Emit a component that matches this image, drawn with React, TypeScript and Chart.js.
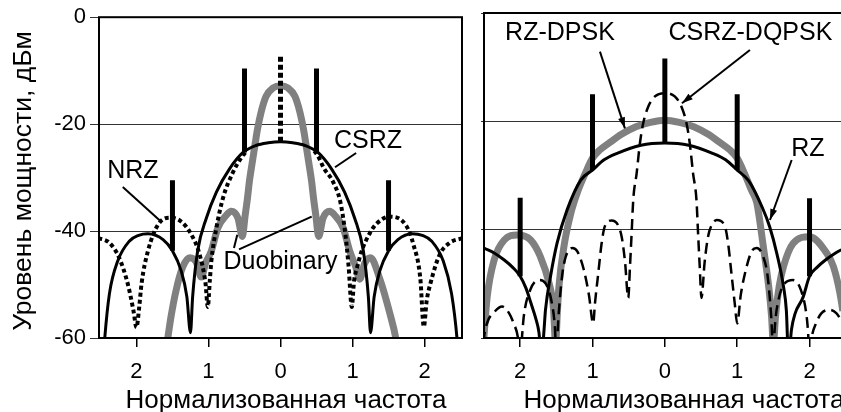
import React, { useEffect, useRef } from 'react';
import { Chart, registerables } from 'chart.js';

Chart.register(...registerables);

const FONT = '"Liberation Sans", Arial, Helvetica, sans-serif';
const GRAY = '#808080';

// ---------- shared axis ticks ----------
const xTickValues = [-2, -1, 0, 1, 2];
const yTickValues = [-60, -40, -20, 0];
const yAxisTitle = 'Уровень мощности, дБм';
const xAxisTitle = 'Нормализованная частота';

// ---------- left panel ----------
const csrzFreq = [-2.47, -2.44, -2.375, -2.26, -2.1, -1.97, -1.84, -1.63, -1.5, -1.38, -1.3, -1.25, -1.22, -1.15, -1.03, -0.89, -0.71, -0.52, -0.34, -0.17, 0, 0.17, 0.34, 0.52, 0.71, 0.89, 1.03, 1.15, 1.22, 1.25, 1.3, 1.38, 1.5, 1.63, 1.83, 1.97, 2.1, 2.26, 2.375, 2.45, 2.48];
const csrzLevel = [-66, -60, -51.7, -45.6, -41.9, -40.8, -40.5, -41.6, -43.7, -47.4, -52.3, -59, -52.3, -43.7, -37.6, -32.7, -28.4, -25.3, -24.0, -23.5, -23.3, -23.5, -24.0, -25.3, -28.4, -32.7, -37.6, -43.7, -52.3, -59, -52.3, -47.4, -43.7, -41.6, -40.5, -40.8, -41.9, -45.6, -51.7, -60, -66];

// main lobe centre is hidden under the CSRZ curve (null = gap)
const nrzFreq = [-2.53, -2.375, -2.24, -2.12, -2.04, -2.0, -1.96, -1.93, -1.84, -1.7, -1.54, -1.38, -1.24, -1.125, -1.04, -1.01, -0.98, -0.96, -0.89, -0.8, -0.66, -0.53, -0.47, 0, 0.47, 0.53, 0.6, 0.73, 0.83, 0.9, 0.945, 0.99, 1.02, 1.07, 1.12, 1.24, 1.335, 1.52, 1.75, 1.845, 1.94, 1.99, 2.03, 2.08, 2.21, 2.35, 2.53];
const nrzLevel = [-41.3, -42.2, -45, -49.9, -55, -58, -54, -49.9, -43.7, -38.8, -37.5, -38.2, -40.6, -44.3, -49.9, -54.2, -49, -45.6, -39.4, -33.9, -29.0, -26.0, -25.0, null, -25.0, -26.2, -28.2, -30.8, -34.5, -40.5, -46.5, -54.2, -49.5, -46.5, -44, -40.4, -38.6, -37.3, -39.1, -42.5, -48.7, -57.9, -53, -49.9, -44.4, -42.2, -41.3];
const nrzCarrierFreq = [0];
const nrzCarrierTop = [-7.4];
const nrzCarrierBottom = [-23.3];

const duoFreq = [-1.6, -1.565, -1.52, -1.45, -1.36, -1.26, -1.17, -1.1, -1.04, -0.96, -0.87, -0.75, -0.685, -0.59, -0.53, -0.49, -0.46, -0.43, -0.39, -0.35, -0.32, -0.27, -0.2, -0.1, 0, 0.1, 0.2, 0.27, 0.32, 0.35, 0.39, 0.43, 0.46, 0.49, 0.53, 0.59, 0.685, 0.75, 0.87, 0.96, 1.04, 1.1, 1.17, 1.25, 1.38, 1.52, 1.6, 1.63];
const duoLevel = [-63, -60, -56, -51.1, -46.8, -45.0, -45.8, -48.6, -46, -43.7, -39.4, -37, -36.3, -37.6, -41, -37, -34, -30.5, -27, -23.5, -21, -17.8, -14.8, -13.2, -12.8, -13.2, -14.8, -17.8, -21, -23.5, -27, -30.5, -34, -37, -41, -37.6, -36.3, -37, -39.4, -43.7, -46.5, -49, -46, -45, -49, -55.5, -60, -63];

const csrzToneFreq = [-1.5, -0.5, 0.5, 1.5];
const csrzToneTop = [-30.5, -9.6, -9.6, -30.5];
const csrzToneBottom = [-43.7, -25.3, -25.3, -43.7];

const leftNames = ['NRZ', 'CSRZ', 'Duobinary'];
const leftNameFreq = [-2.05, 1.215, 0];
const leftNameLevel = [-28.8, -23.1, -45.8];
const leftLeaderFrom = [[-2.19, -31.75], [1.05, -25.4], [-0.646, -43.15], [-0.576, -43.44]];
const leftLeaderTo = [[-1.66, -38.2], [0.757, -28.06], [-0.6, -40.67], [0.433, -37.29]];

// ---------- right panel ----------
const rzFreq = [-2.55, -2.5, -2.36, -2.22, -2.1, -2.0, -1.92, -1.85, -1.78, -1.74, -1.705, -1.67, -1.65, -1.58, -1.49, -1.35, -1.16, -1.0, -0.84, -0.66, -0.33, 0, 0.33, 0.66, 0.84, 1.0, 1.16, 1.35, 1.45, 1.55, 1.64, 1.68, 1.71, 1.75, 1.8, 1.91, 2.0, 2.1, 2.22, 2.36, 2.44, 2.48];
const rzLevel = [-43.0, -43.4, -44.3, -45.6, -47.0, -48.6, -50.8, -53.6, -56.6, -59, -64, -58.5, -54.8, -48.6, -42.5, -36.3, -30.8, -29.0, -27.1, -25.9, -24.4, -24.0, -24.4, -25.9, -27.1, -29.0, -31, -36, -39.5, -44.5, -50.5, -55, -64, -58.5, -55.5, -52.5, -48.6, -47, -45.6, -44.3, -43.7, -43.4];
const rzToneFreq = [-2, -1, 0, 1, 2];
const rzToneTop = [-34.1, -15.0, -8.4, -15.0, -34.2];
const rzToneBottom = [-48.6, -29.0, -24.0, -29.0, -48.6];

const dpskFreq = [-2.52, -2.5, -2.455, -2.36, -2.22, -2.04, -1.855, -1.72, -1.6, -1.54, -1.51, -1.485, -1.464, -1.395, -1.3, -1.2, -1.1, -1.0, -0.9, -0.75, -0.6, -0.4, -0.2, 0, 0.2, 0.4, 0.6, 0.75, 0.9, 1.0, 1.1, 1.2, 1.27, 1.36, 1.44, 1.475, 1.5, 1.53, 1.58, 1.64, 1.775, 2.0, 2.24, 2.33, 2.42, 2.46];
const dpskLevel = [-64, -59.7, -52.3, -45.6, -41.9, -41.0, -41.9, -45, -49.9, -54.5, -61, -55, -50.5, -43.1, -37, -32.8, -29.6, -26.8, -25.3, -23.8, -22.4, -21.0, -20.2, -19.8, -20.2, -21.0, -22.4, -23.8, -25.3, -26.8, -29.6, -32.8, -35, -43, -51, -56, -61, -56, -50.5, -46.8, -42.5, -41.3, -44.4, -46.8, -51.7, -55];

const dqpskFreq = [-2.52, -2.5, -2.45, -2.37, -2.25, -2.15, -2.09, -2.03, -2.0, -1.97, -1.95, -1.86, -1.74, -1.65, -1.57, -1.52, -1.5, -1.47, -1.42, -1.37, -1.28, -1.21, -1.12, -1.05, -0.99, -0.966, -0.92, -0.874, -0.83, -0.735, -0.65, -0.597, -0.55, -0.506, -0.482, -0.459, -0.437, -0.39, -0.344, -0.3, -0.23, -0.137, 0, 0.137, 0.23, 0.3, 0.344, 0.39, 0.437, 0.459, 0.482, 0.506, 0.55, 0.597, 0.65, 0.72, 0.83, 0.874, 0.92, 0.966, 1.0, 1.05, 1.12, 1.2, 1.27, 1.36, 1.42, 1.47, 1.5, 1.52, 1.57, 1.66, 1.77, 1.88, 1.96, 1.98, 2.0, 2.03, 2.09, 2.16, 2.28, 2.37, 2.45];
const dqpskLevel = [-64, -60, -57, -55.4, -54.2, -55.5, -57.3, -60, -64, -59, -56, -51.1, -49.3, -49.9, -53, -58, -63, -56, -48.5, -45, -43.4, -44, -47.4, -52, -57.3, -53.6, -48, -42.5, -39.4, -38.3, -39.1, -41.3, -46, -52.6, -46.8, -40.6, -34.5, -29.6, -24.0, -20.4, -17.3, -15.4, -14.8, -15.4, -17.3, -20.4, -24.0, -29.6, -34.5, -40.6, -46.8, -52.6, -46, -41.3, -39.1, -38.2, -39.4, -42.5, -48, -53.6, -57.3, -52, -47.4, -44, -43.4, -45, -48.5, -56, -63, -58, -53, -49.9, -49.3, -51.1, -56, -59, -64, -60, -57.3, -55.5, -54.8, -55.4, -57];

const rightNames = ['RZ-DPSK', 'CSRZ-DQPSK', 'RZ'];
const rightNameFreq = [-1.45, 1.183, 1.978];
const rightNameLevel = [-3.75, -3.78, -25.1];
const rightArrowFrom = [[-0.897, -7.14], [1.176, -6.83], [1.753, -27.14]];
const rightArrowTo = [[-0.552, -21.29], [0.236, -16.67], [1.453, -38.22]];

// ---------- helpers ----------
type Pt = { x: number; y: number | null };
const toPoints = (f: number[], l: (number | null)[]): Pt[] => f.map((v, i) => ({ x: v, y: l[i] }));
const toBars = (f: number[], top: number[], bot: number[]): Pt[] => {
  const out: Pt[] = [];
  f.forEach((v, i) => {
    out.push({ x: v, y: top[i] }, { x: v, y: bot[i] }, { x: v, y: null });
  });
  return out;
};

const curve = (data: Pt[], color: string, width: number, order: number, dash: number[] = []) => ({
  type: 'line',
  data,
  borderColor: color,
  borderWidth: width,
  borderDash: dash,
  pointRadius: 0,
  fill: false,
  cubicInterpolationMode: 'monotone',
  borderCapStyle: 'butt',
  borderJoinStyle: 'round',
  spanGaps: false,
  clip: 0,
  order,
});

const bars = (data: Pt[], width: number, order: number, dash: number[] = []) => ({
  type: 'line',
  data,
  borderColor: '#000',
  borderWidth: width,
  borderDash: dash,
  pointRadius: 0,
  fill: false,
  tension: 0,
  spanGaps: false,
  borderCapStyle: 'butt',
  clip: 0,
  order,
});

function makeScales(xMin: number, xMax: number, yWidth: number, showYLabels: boolean, yTickLen: number) {
  return {
    x: {
      type: 'linear',
      min: xMin,
      max: xMax,
      afterBuildTicks: (s: any) => {
        s.ticks = xTickValues.map((v) => ({ value: v }));
      },
      afterFit: (s: any) => {
        s.height = 74;
      },
      ticks: {
        callback: (v: any) => String(Math.abs(Number(v))),
        font: { family: FONT, size: 22 },
        color: '#000',
        padding: 12,
        maxRotation: 0,
        autoSkip: false,
      },
      grid: { drawOnChartArea: false, drawTicks: true, tickLength: 9, color: '#000', lineWidth: 1.5 },
      border: { display: false },
    },
    y: {
      type: 'linear',
      min: -60,
      max: 0,
      afterBuildTicks: (s: any) => {
        s.ticks = yTickValues.map((v) => ({ value: v }));
      },
      afterFit: (s: any) => {
        s.width = yWidth;
      },
      ticks: {
        display: showYLabels,
        callback: (v: any) => String(v),
        font: { family: FONT, size: 22 },
        color: '#000',
        padding: 4,
      },
      grid: { color: '#333', lineWidth: 1, tickLength: yTickLen, drawTicks: true },
      border: { display: false },
    },
  };
}

function seg(ctx: CanvasRenderingContext2D, x1: number, y1: number, x2: number, y2: number, w: number) {
  ctx.beginPath();
  ctx.lineWidth = w;
  ctx.moveTo(x1, y1);
  ctx.lineTo(x2, y2);
  ctx.stroke();
}

function arrowHead(ctx: CanvasRenderingContext2D, x1: number, y1: number, x2: number, y2: number) {
  const a = Math.atan2(y2 - y1, x2 - x1);
  const len = 11;
  const half = 3.5;
  const bx = x2 - len * Math.cos(a);
  const by = y2 - len * Math.sin(a);
  ctx.beginPath();
  ctx.moveTo(x2, y2);
  ctx.lineTo(bx + half * Math.sin(a), by - half * Math.cos(a));
  ctx.lineTo(bx - half * Math.sin(a), by + half * Math.cos(a));
  ctx.closePath();
  ctx.fill();
}

export default function App() {
  const leftRef = useRef<HTMLCanvasElement>(null);
  const rightRef = useRef<HTMLCanvasElement>(null);

  useEffect(() => {
    const leftPlugin = {
      id: 'leftDecor',
      afterDatasetsDraw(chart: any) {
        const { ctx, chartArea: a, scales } = chart;
        const X = (f: number) => scales.x.getPixelForValue(f);
        const Y = (d: number) => scales.y.getPixelForValue(d);
        ctx.save();
        ctx.strokeStyle = '#000';
        ctx.fillStyle = '#000';
        ctx.lineWidth = 2;
        ctx.strokeRect(a.left, a.top, a.right - a.left, a.bottom - a.top);
        leftLeaderFrom.forEach((p, i) => {
          const q = leftLeaderTo[i];
          seg(ctx, X(p[0]), Y(p[1]), X(q[0]), Y(q[1]), 2);
        });
        ctx.font = `25px ${FONT}`;
        ctx.textAlign = 'center';
        ctx.textBaseline = 'middle';
        leftNames.forEach((n, i) => ctx.fillText(n, X(leftNameFreq[i]), Y(leftNameLevel[i])));
        ctx.font = `26px ${FONT}`;
        ctx.textBaseline = 'alphabetic';
        ctx.fillText(xAxisTitle, 286, 408);
        ctx.translate(31, 181);
        ctx.rotate(-Math.PI / 2);
        ctx.font = `26.5px ${FONT}`;
        ctx.fillText(yAxisTitle, 0, 0);
        ctx.restore();
      },
    };

    const rightPlugin = {
      id: 'rightDecor',
      afterDatasetsDraw(chart: any) {
        const { ctx, chartArea: a, scales } = chart;
        const X = (f: number) => scales.x.getPixelForValue(f);
        const Y = (d: number) => scales.y.getPixelForValue(d);
        ctx.save();
        ctx.strokeStyle = '#000';
        ctx.fillStyle = '#000';
        ctx.lineWidth = 2;
        ctx.beginPath();
        ctx.moveTo(a.right + 2, a.top);
        ctx.lineTo(a.left, a.top);
        ctx.lineTo(a.left, a.bottom);
        ctx.lineTo(a.right + 2, a.bottom);
        ctx.stroke();
        rightArrowFrom.forEach((p, i) => {
          const q = rightArrowTo[i];
          const x1 = X(p[0]), y1 = Y(p[1]), x2 = X(q[0]), y2 = Y(q[1]);
          seg(ctx, x1, y1, x2, y2, 2);
          arrowHead(ctx, x1, y1, x2, y2);
        });
        ctx.font = `25px ${FONT}`;
        ctx.textAlign = 'center';
        ctx.textBaseline = 'middle';
        rightNames.forEach((n, i) => ctx.fillText(n, X(rightNameFreq[i]), Y(rightNameLevel[i])));
        ctx.font = `26px ${FONT}`;
        ctx.textBaseline = 'alphabetic';
        ctx.fillText(xAxisTitle, 684 - 470, 408);
        ctx.restore();
      },
    };

    const common = {
      animation: false,
      responsive: false,
      devicePixelRatio: 1,
      events: [],
      plugins: { legend: { display: false }, tooltip: { enabled: false }, title: { display: false } },
    };

    const c1 = new Chart(leftRef.current as HTMLCanvasElement, {
      type: 'line',
      data: {
        datasets: [
          curve(toPoints(duoFreq, duoLevel), GRAY, 7, 5),
          curve(toPoints(nrzFreq, nrzLevel), '#000', 4, 4, [4, 3]),
          curve(toPoints(csrzFreq, csrzLevel), '#000', 3, 3),
          bars(toBars(nrzCarrierFreq, nrzCarrierTop, nrzCarrierBottom), 5, 2, [5, 3]),
          bars(toBars(csrzToneFreq, csrzToneTop, csrzToneBottom), 5, 1),
        ] as any,
      },
      options: {
        ...common,
        layout: { padding: { left: 0, right: 8, top: 13, bottom: 0 } },
        scales: makeScales(-2.52, 2.52, 99, true, 9) as any,
      } as any,
      plugins: [leftPlugin],
    });

    const c2 = new Chart(rightRef.current as HTMLCanvasElement, {
      type: 'line',
      data: {
        datasets: [
          curve(toPoints(dpskFreq, dpskLevel), GRAY, 7, 5),
          curve(toPoints(rzFreq, rzLevel), '#000', 3, 4),
          curve(toPoints(dqpskFreq, dqpskLevel), '#000', 2.5, 3, [11, 6]),
          bars(toBars(rzToneFreq, rzToneTop, rzToneBottom), 5, 1),
        ] as any,
      },
      options: {
        ...common,
        layout: { padding: { left: 0, right: 0, top: 13, bottom: 0 } },
        scales: makeScales(-2.5, 2.435, 14, false, 3) as any,
      } as any,
      plugins: [rightPlugin],
    });

    return () => {
      c1.destroy();
      c2.destroy();
    };
  }, []);

  return (
    <div style={{ position: 'fixed', left: 0, top: 0, width: 841, height: 412, background: '#fff', overflow: 'hidden' }}>
      <canvas ref={leftRef} width={470} height={412} style={{ position: 'absolute', left: 0, top: 0 }} />
      <canvas ref={rightRef} width={371} height={412} style={{ position: 'absolute', left: 470, top: 0 }} />
    </div>
  );
}
